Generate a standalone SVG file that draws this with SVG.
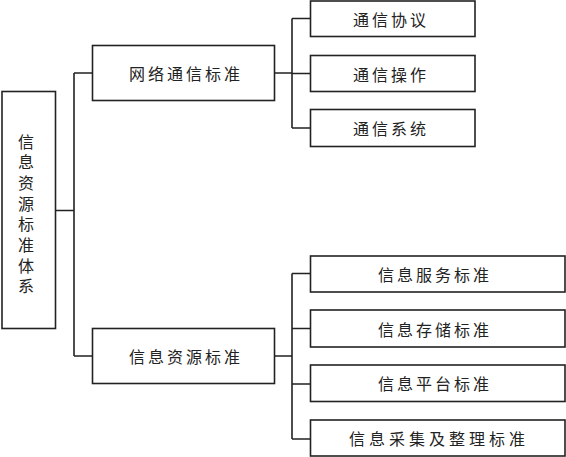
<svg xmlns="http://www.w3.org/2000/svg" width="566" height="457" viewBox="0 0 566 457">
<style>
.b{fill:#fff;stroke:#222;stroke-width:1.6}
.c{fill:none;stroke:#222;stroke-width:1.6}
text{font-family:"Noto Sans CJK SC","Liberation Sans",sans-serif;font-size:16px;fill:#222;text-anchor:middle;dominant-baseline:central;letter-spacing:3px}
</style>
<rect width="566" height="457" fill="#fff"/>
<g id="connectors">
<path class="c" d="M55.5 210.5H74M74 73V356M74 73H92.5M74 356H92.5"/>
<path class="c" d="M274.5 73H292M292 18.5V128M292 18.5H310.5M292 73.5H310.5M292 128H310.5"/>
<path class="c" d="M274.5 356H292M292 273.5V439M292 273.5H310.5M292 328.5H310.5M292 384H310.5M292 439H310.5"/>
</g>
<g id="root">
<rect class="b" x="2" y="91.5" width="53.5" height="237"/>
<text style="writing-mode:vertical-rl;text-anchor:start;letter-spacing:4.7px" x="26" y="133.5">信息资源标准体系</text>
</g>
<g id="n1"><rect class="b" x="92.5" y="45.5" width="182" height="55"/><text x="186" y="73">网络通信标准</text></g>
<g id="n2"><rect class="b" x="92.5" y="328.5" width="182" height="55"/><text x="186" y="356">信息资源标准</text></g>
<g id="n11"><rect class="b" x="310.5" y="1" width="164.5" height="35.5"/><text x="391" y="18.5">通信协议</text></g>
<g id="n12"><rect class="b" x="310.5" y="55.5" width="164.5" height="36"/><text x="391" y="73.5">通信操作</text></g>
<g id="n13"><rect class="b" x="310.5" y="109.5" width="164.5" height="37"/><text x="391" y="128">通信系统</text></g>
<g id="n21"><rect class="b" x="310.5" y="256" width="254.5" height="36"/><text x="435" y="274">信息服务标准</text></g>
<g id="n22"><rect class="b" x="310.5" y="310" width="254.5" height="37"/><text x="435" y="328.5">信息存储标准</text></g>
<g id="n23"><rect class="b" x="310.5" y="365" width="254.5" height="36.5"/><text x="435" y="383">信息平台标准</text></g>
<g id="n24"><rect class="b" x="310.5" y="420" width="254.5" height="36"/><text style="letter-spacing:4px" x="439" y="438">信息采集及整理标准</text></g>
</svg>
